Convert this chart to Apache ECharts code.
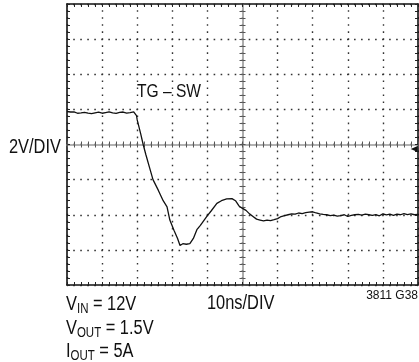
<!DOCTYPE html>
<html>
<head>
<meta charset="utf-8">
<script src="https://cdn.jsdelivr.net/npm/echarts@6/dist/echarts.min.js"></script>
<style>
  html, body { margin: 0; padding: 0; background: #fff; }
  #main { width: 419px; height: 362px; }
</style>
</head>
<body>
<div id="main"></div>
<script type="text/javascript">
    // 时间 (ns，以屏幕中心为 0) 和电压 (V)，从示波器截图读出
    var timeNs = [
        -50, -49, -48, -47, -46, -45, -44, -43, -42, -41,
        -40, -39, -38, -37, -36, -35, -34, -33, -32, -31,
        -30.6, -30.2, -30, -29.5, -29, -28.3, -27.5, -26.5, -25.5, -24,
        -22.6, -21.5, -20.7, -19.5, -18.5, -17.8, -17, -16.5, -16, -15,
        -14, -13, -12, -10, -9, -7.3, -6, -4.5, -3, -2,
        -1, 0, 1, 2, 3, 4, 5, 6, 7, 8,
        9, 10, 11, 12, 13, 14, 15, 16, 17, 18,
        19, 20, 21, 22, 23, 24, 25, 26, 27, 28,
        29, 30, 31, 32, 33, 34, 35, 36, 37, 38,
        39, 40, 41, 42, 43, 44, 45, 46, 47, 48,
        49, 50
    ];
    var voltsV = [
        1.88, 1.85, 1.86, 1.78, 1.80, 1.83, 1.79, 1.76, 1.80, 1.84,
        1.78, 1.82, 1.86, 1.80, 1.77, 1.83, 1.85, 1.79, 1.81, 1.86,
        1.90, 1.65, 1.40, 1.00, 0.60, 0.00, -0.60, -1.30, -2.00, -2.60,
        -3.20, -3.55, -4.30, -4.90, -5.35, -5.75, -5.65, -5.60, -5.68, -5.65,
        -5.35, -4.85, -4.60, -4.05, -3.80, -3.35, -3.20, -3.10, -3.08, -3.20,
        -3.50, -3.64, -3.75, -3.95, -4.10, -4.25, -4.30, -4.35, -4.30, -4.33,
        -4.28, -4.22, -4.10, -4.05, -4.00, -3.95, -3.97, -3.90, -3.93, -3.88,
        -3.85, -3.83, -3.90, -3.95, -3.98, -4.00, -4.05, -4.02, -4.08, -4.05,
        -4.00, -4.10, -4.03, -4.00, -3.98, -4.02, -3.97, -4.00, -4.04, -3.99,
        -4.06, -3.95, -4.01, -3.97, -4.03, -3.96, -4.00, -3.94, -3.99, -3.95,
        -4.00, -3.98
    ];
    // 参考地电平箭头
    var groundMarker = [48.9, -0.25];

    var traceData = timeNs.map(function (t, i) { return [t, voltsV[i]]; });

    var font = '"Liberation Sans", Arial, sans-serif';
    var narrow = 0.82; // 原图是窄体字，横向压缩
    var dotted = { type: [1.6, 5.42], dashOffset: 0.8, color: '#333', width: 1.4 };

    // 边框轴
    function frameAxis(pos, min, max, interval, split) {
        return {
            type: 'value', position: pos, min: min, max: max, interval: interval,
            axisLine: { show: true, onZero: false, lineStyle: { color: '#111', width: 1.6 } },
            axisTick: { show: true, inside: true, length: 3, lineStyle: { color: '#222', width: 1 } },
            minorTick: { show: true, splitNumber: 5, length: 3, lineStyle: { color: '#222', width: 1 } },
            axisLabel: { show: false },
            splitLine: { show: split, lineStyle: dotted }
        };
    }
    // 中心十字线
    function centerAxis(pos, min, max, interval, line) {
        return {
            type: 'value', position: pos, min: min, max: max, interval: interval,
            axisLine: { show: line, onZero: true, onZeroAxisIndex: 0, lineStyle: { color: '#999', width: 1.6 } },
            axisTick: { show: true, inside: true, length: 3, lineStyle: { color: '#555', width: 1 } },
            minorTick: { show: true, splitNumber: 5, length: 3, lineStyle: { color: '#555', width: 1 } },
            axisLabel: { show: false },
            splitLine: { show: false }
        };
    }

    function label(x, y, text, size) {
        return {
            type: 'text', x: x, y: y, scaleX: narrow,
            style: { text: text, font: size + 'px ' + font, fill: '#111', verticalAlign: 'top' }
        };
    }

    var myChart = echarts.init(document.getElementById('main'));
    var option = {
        animation: false,
        backgroundColor: '#fff',
        grid: { left: 67, top: 4, width: 351, height: 281, containLabel: false },
        xAxis: [
            frameAxis('bottom', -50, 50, 10, true),
            frameAxis('top', -50, 50, 10, false),
            centerAxis('bottom', -50, 50, 10, true),
            centerAxis('top', -50, 50, 10, false)
        ],
        yAxis: [
            frameAxis('left', -8, 8, 2, true),
            frameAxis('right', -8, 8, 2, false),
            centerAxis('left', -8, 8, 2, true),
            centerAxis('right', -8, 8, 2, false)
        ],
        series: [{
            name: 'TG – SW',
            type: 'line',
            xAxisIndex: 0,
            yAxisIndex: 0,
            data: traceData,
            showSymbol: false,
            lineStyle: { color: '#111', width: 1.3 },
            markPoint: {
                symbol: 'triangle',
                symbolSize: [6, 7],
                symbolRotate: 90,
                itemStyle: { color: '#111' },
                label: { show: false },
                data: [{ coord: groundMarker }]
            },
            z: 5
        }],
        graphic: [
            label(137, 82, 'TG – SW', 19),
            label(9, 137, '2V/DIV', 20),
            label(207, 293, '10ns/DIV', 20),
            { type: 'text', right: 1, top: 290,
              style: { text: '3811 G38', font: '12px ' + font, fill: '#111' } },
            { type: 'text', x: 66, y: 293, scaleX: narrow,
              style: {
                  text: '{m|V}{s|IN}{m| = 12V}\n{m|V}{s|OUT}{m| = 1.5V}\n{m|I}{s|OUT}{m| = 5A}',
                  fill: '#111',
                  verticalAlign: 'top',
                  rich: {
                      m: { fontFamily: font, fontSize: 20, lineHeight: 23.5, fill: '#111' },
                      s: { fontFamily: font, fontSize: 14, lineHeight: 14.5, padding: [9, 0, 0, 0], fill: '#111' }
                  }
              } }
        ]
    };
    myChart.setOption(option);
</script>
</body>
</html>
